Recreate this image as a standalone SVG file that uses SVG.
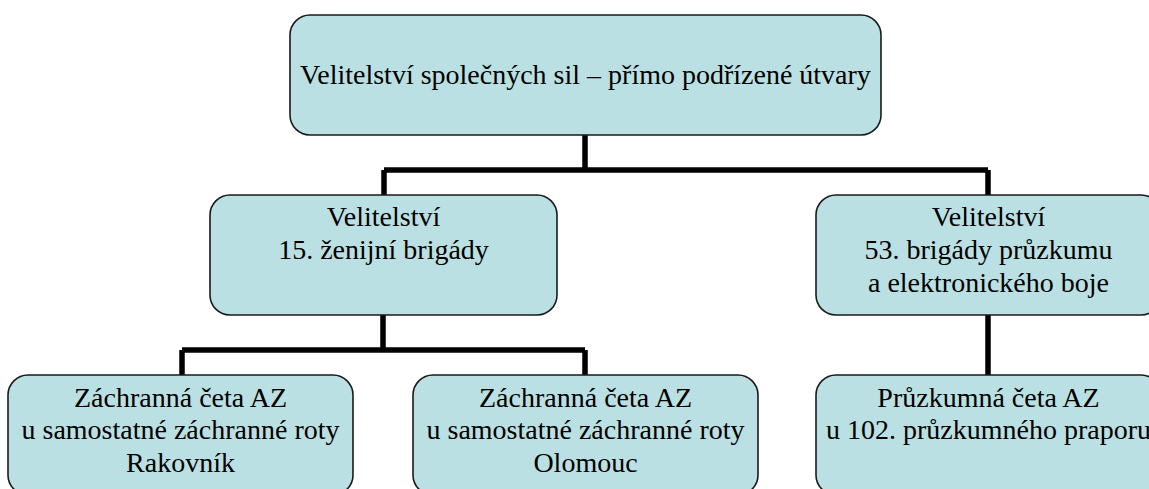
<svg xmlns="http://www.w3.org/2000/svg" width="1149" height="489" viewBox="0 0 1149 489" font-family="Liberation Serif, serif">
<style>
.box{fill:#BBE0E3;stroke:#1a1a1a;stroke-width:1.6}
.t{font-size:28px;fill:#000;text-anchor:middle}
.c{fill:none;stroke:#000;stroke-width:5.5;stroke-linejoin:miter;stroke-linecap:butt}
</style>
<rect width="1149" height="489" fill="#fff"/>
<g id="connectors">
<path class="c" d="M585,135 V170 M384,170 H988 M384,170 V195 M988,170 V195"/>
<path class="c" d="M383,315 V350 M182,350 H585 M182,350 V375 M585,350 V375"/>
<path class="c" d="M988,315 V375"/>
</g>
<g id="n_top">
<rect class="box" x="290" y="15" width="591" height="120" rx="20"/>
<text class="t" x="585.5" y="84">Velitelství společných sil – přímo podřízené útvary</text>
</g>
<g id="n_15">
<rect class="box" x="210" y="195" width="347" height="120" rx="20"/>
<text class="t" x="383.5" y="226">Velitelství</text>
<text class="t" x="383.5" y="259">15. ženijní brigády</text>
</g>
<g id="n_53">
<rect class="box" x="816" y="195" width="345" height="120" rx="20"/>
<text class="t" x="988.5" y="226">Velitelství</text>
<text class="t" x="988.5" y="259">53. brigády průzkumu</text>
<text class="t" x="988.5" y="292">a elektronického boje</text>
</g>
<g id="n_rak">
<rect class="box" x="8" y="375" width="345" height="120" rx="20"/>
<text class="t" x="180.5" y="407">Záchranná četa AZ</text>
<text class="t" x="180.5" y="439">u samostatné záchranné roty</text>
<text class="t" x="180.5" y="472">Rakovník</text>
</g>
<g id="n_olo">
<rect class="box" x="413" y="375" width="345" height="120" rx="20"/>
<text class="t" x="585.5" y="407">Záchranná četa AZ</text>
<text class="t" x="585.5" y="439">u samostatné záchranné roty</text>
<text class="t" x="585.5" y="472">Olomouc</text>
</g>
<g id="n_102">
<rect class="box" x="816" y="375" width="345" height="120" rx="20"/>
<text class="t" x="988.5" y="407">Průzkumná četa AZ</text>
<text class="t" x="988.5" y="439">u 102. průzkumného praporu</text>
</g>
</svg>
